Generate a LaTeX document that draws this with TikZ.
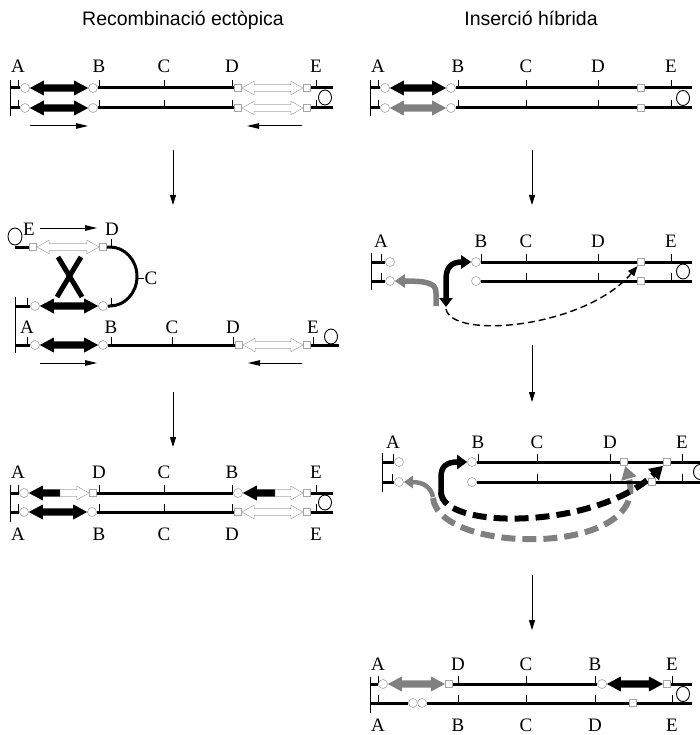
\documentclass[tikz,border=0pt]{standalone}
\usepackage{fontspec}
\setmainfont{Liberation Serif}
\newfontfamily\titlefont{Liberation Sans}
\usetikzlibrary{arrows.meta,calc,backgrounds}

% horizontal block arrows between two nodes
\newcommand{\dblarr}[3]{%
  \path[#1] let \p1=(#2.east), \p2=(#3.west) in
    (\x1,\y1) -- (\x1+\ahl,\y1+\ahw) -- (\x1+\ahl,\y1+\abw)
    -- (\x2-\ahl,\y1+\abw) -- (\x2-\ahl,\y1+\ahw) -- (\x2,\y1)
    -- (\x2-\ahl,\y1-\ahw) -- (\x2-\ahl,\y1-\abw)
    -- (\x1+\ahl,\y1-\abw) -- (\x1+\ahl,\y1-\ahw) -- cycle;}
\newcommand{\larr}[3]{% tip left, tail right
  \path[#1] let \p1=(#2), \p2=(#3) in
    (\x1,\y1) -- (\x1+\ahl,\y1+\ahw) -- (\x1+\ahl,\y1+\abw) -- (\x2,\y1+\abw)
    -- (\x2,\y1-\abw) -- (\x1+\ahl,\y1-\abw) -- (\x1+\ahl,\y1-\ahw) -- cycle;}
\newcommand{\rarr}[3]{% tail left, tip right
  \path[#1] let \p1=(#2), \p2=(#3) in
    (\x2,\y2) -- (\x2-\ahl,\y2+\ahw) -- (\x2-\ahl,\y2+\abw) -- (\x1,\y2+\abw)
    -- (\x1,\y2-\abw) -- (\x2-\ahl,\y2-\abw) -- (\x2-\ahl,\y2-\ahw) -- cycle;}

\begin{document}
\begin{tikzpicture}[x=1pt,y=-1pt,
  every node/.style={inner sep=0pt},
  lab/.style={font=\fontsize{19}{19}\selectfont, anchor=base},
  ttl/.style={font=\titlefont\fontsize{19.5}{21}\selectfont, anchor=base},
  strand/.style={line width=3pt},
  tickmark/.style={line width=0.8pt},
  endbar/.style={line width=1pt},
  telo/.style={line width=0.9pt},
  cir/.style={circle,draw=gray!70,fill=white,line width=0.6pt,minimum size=9pt},
  sqr/.style={rectangle,draw=gray!70,fill=white,line width=0.6pt,minimum size=7.5pt},
  solidarr/.style={fill=black,/utils/exec={\def\ahl{14pt}\def\ahw{7.5pt}\def\abw{3.7pt}}},
  greyarr/.style={fill=gray,/utils/exec={\def\ahl{14pt}\def\ahw{7.5pt}\def\abw{3.7pt}}},
  openarr/.style={draw=gray!70,fill=white,line width=0.5pt,/utils/exec={\def\ahl{12pt}\def\ahw{6.8pt}\def\abw{3.4pt}}},
  dirarr/.style={line width=1pt,-{Triangle[length=12pt,width=5.5pt]}},
  steparr/.style={line width=1pt,-{Triangle[length=10pt,width=6pt]}},
  xover/.style={line width=5pt},
  bent/.style={line width=5.5pt},
  thindash/.style={line width=1.4pt,dash pattern=on 7pt off 4pt,-{Triangle[length=10pt,width=8pt]}},
  fatdash/.style={line width=6pt,dash pattern=on 14pt off 7pt,-{Triangle[length=13pt,width=15pt]}}
]
\useasboundingbox (0,0) rectangle (700,735);

\node[ttl] (t1) at (183,26) {Recombinació ectòpica};
\node[ttl] (t2) at (531,26) {Inserció híbrida};

% ---------- recombinacio, pas 1
\foreach \x/\t in {18/A,99/B,164/C,232/D,316/E} {
  \node[lab] (r1\t) at (\x,73) {\t};
  \draw[tickmark] (\x,88) -- ++(0,-8) (\x,108) -- ++(0,-8);
}
\draw[endbar] (10,80) -- (10,116);
\foreach \r/\y in {u/88,l/108} {
  \coordinate (r1\r0) at (10,\y);
  \coordinate (r1\r9) at (333,\y);
  \node[cir] (r1\r1) at (25,\y) {};
  \node[cir] (r1\r2) at (93,\y) {};
  \node[sqr] (r1\r3) at (238,\y) {};
  \node[sqr] (r1\r4) at (307,\y) {};
  \draw[strand] (r1\r0) -- (r1\r1) (r1\r2) -- (r1\r3) (r1\r4) -- (r1\r9);
  \dblarr{solidarr}{r1\r1}{r1\r2}
  \dblarr{openarr}{r1\r3}{r1\r4}
}
\draw[telo] (325,97.5) ellipse [x radius=6.5,y radius=7.5];
\coordinate (r1a) at (30,126); \coordinate (r1b) at (88,126);
\coordinate (r1c) at (302,126); \coordinate (r1d) at (247,126);
\draw[dirarr] (r1a) -- (r1b);
\draw[dirarr] (r1c) -- (r1d);

% ---------- recombinacio, pas 2
\node[lab] (r2E) at (29,235) {E};
\node[lab] (r2D) at (112,235) {D};
\coordinate (r2a) at (40,228); \coordinate (r2b) at (97,228);
\draw[dirarr] (r2a) -- (r2b);
\draw[telo] (15,236.5) ellipse [x radius=7,y radius=8.5];
\coordinate (r2u0) at (15,247);
\node[sqr] (r2u1) at (33,247) {};
\node[sqr] (r2u2) at (103,247) {};
\node[cir] (r2m1) at (35,306) {};
\node[cir] (r2m2) at (103,306) {};
\coordinate (r2m0) at (15,306);
\draw[tickmark] (111,247) -- ++(0,-8) (27,306) -- ++(0,-8) (111,306) -- ++(0,-8);
\draw[strand] (r2u0) -- (r2u1);
\draw[strand] (r2m0) -- (r2m1);
\draw[strand] (r2u2) -- (110,247)
  arc[start angle=-90,end angle=90,x radius=27,y radius=29.5] -- (r2m2);
\draw[tickmark] (137,278) -- ++(7,0);
\node[lab] (r2C) at (151,284) {C};
\dblarr{openarr}{r2u1}{r2u2}
\dblarr{solidarr}{r2m1}{r2m2}
\draw[xover] (58,257) -- (82,297) (81,257) -- (57,297);
\draw[endbar] (15,297) -- (15,353);
\foreach \x/\t in {27/A,111/B,172/C,233/D,313/E} {
  \node[lab] (r2\t2) at (\x,333) {\t};
  \draw[tickmark] (\x,345) -- ++(0,-8);
}
\coordinate (r2l0) at (15,345);
\coordinate (r2l9) at (339,345);
\node[cir] (r2l1) at (35,345) {};
\node[cir] (r2l2) at (103,345) {};
\node[sqr] (r2l3) at (239,345) {};
\node[sqr] (r2l4) at (307,345) {};
\draw[strand] (r2l0) -- (r2l1) (r2l2) -- (r2l3) (r2l4) -- (r2l9);
\dblarr{solidarr}{r2l1}{r2l2}
\dblarr{openarr}{r2l3}{r2l4}
\draw[telo] (331,336.5) ellipse [x radius=6.5,y radius=7.5];
\coordinate (r2c) at (40,363); \coordinate (r2d) at (97,363);
\coordinate (r2e) at (302,363); \coordinate (r2f) at (248,363);
\draw[dirarr] (r2c) -- (r2d);
\draw[dirarr] (r2e) -- (r2f);

% ---------- recombinacio, pas 3
\foreach \x/\t/\s in {18/A/A,99/D/B,164/C/C,232/B/D,316/E/E} {
  \node[lab] (r3\t) at (\x,478) {\t};
  \node[lab] (r3\s2) at (\x,540) {\s};
  \draw[tickmark] (\x,493) -- ++(0,-8) (\x,512) -- ++(0,-8);
}
\draw[endbar] (10,485) -- (10,522);
\coordinate (r3u0) at (10,493); \coordinate (r3u9) at (333,493);
\coordinate (r3l0) at (10,512); \coordinate (r3l9) at (333,512);
\node[cir] (r3u1) at (24,493) {};
\node[sqr] (r3u2) at (93,493) {};
\node[cir] (r3u3) at (238,493) {};
\node[sqr] (r3u4) at (307,493) {};
\coordinate (r3j1) at (60,493); \coordinate (r3j2) at (275,493);
\draw[strand] (r3u0) -- (r3u1) (r3u2) -- (r3u3) (r3u4) -- (r3u9);
\larr{solidarr}{r3u1.east}{r3j1}
\rarr{openarr}{r3j1}{r3u2.west}
\larr{solidarr}{r3u3.east}{r3j2}
\rarr{openarr}{r3j2}{r3u4.west}
\node[cir] (r3l1) at (24,512) {};
\node[cir] (r3l2) at (92,512) {};
\node[sqr] (r3l3) at (238,512) {};
\node[sqr] (r3l4) at (307,512) {};
\draw[strand] (r3l0) -- (r3l1) (r3l2) -- (r3l3) (r3l4) -- (r3l9);
\dblarr{solidarr}{r3l1}{r3l2}
\dblarr{openarr}{r3l3}{r3l4}
\draw[telo] (325,502.5) ellipse [x radius=6.5,y radius=7.5];

% ---------- insercio, pas 1
\foreach \x/\t in {378/A,458/B,526/C,598/D,671/E} {
  \node[lab] (h1\t) at (\x,73) {\t};
  \draw[tickmark] (\x,88) -- ++(0,-8) (\x,108) -- ++(0,-8);
}
\draw[endbar] (370,80) -- (370,116);
\foreach \r/\y in {u/88,l/108} {
  \coordinate (h1\r0) at (370,\y);
  \coordinate (h1\r9) at (692,\y);
  \node[cir] (h1\r1) at (385,\y) {};
  \node[cir] (h1\r2) at (451,\y) {};
  \node[sqr] (h1\r3) at (641,\y) {};
  \draw[strand] (h1\r0) -- (h1\r1) (h1\r2) -- (h1\r3) -- (h1\r9);
}
\dblarr{solidarr}{h1u1}{h1u2}
\dblarr{greyarr}{h1l1}{h1l2}
\draw[telo] (683,98) ellipse [x radius=6.5,y radius=7.5];

% ---------- insercio, pas 2
\foreach \x/\t in {381/A,481/B,526/C,598/D,671/E} {
  \node[lab] (h2\t) at (\x,247) {\t};
  \draw[tickmark] (\x,262) -- ++(0,-8);
}
\foreach \x in {381,526,598,671} \draw[tickmark] (\x,281) -- ++(0,-8);
\draw[endbar] (371,253) -- (371,290);
\foreach \r/\y in {u/262,l/281} {
  \coordinate (h2\r0) at (371,\y);
  \coordinate (h2\r9) at (692,\y);
  \node[cir] (h2\r1) at (390,\y) {};
  \node[cir] (h2\r2) at (476,\y) {};
  \node[sqr] (h2\r3) at (641,\y) {};
  \draw[strand] (h2\r0) -- (h2\r1) (h2\r2) -- (h2\r3) -- (h2\r9);
}
\draw[telo] (683,271.5) ellipse [x radius=6.5,y radius=7.5];
\draw[bent,gray,-{Triangle[length=10pt,width=13pt]}] (436,306) -- (436,293)
  .. controls (436,284) and (430,281) .. (h2l1);
\draw[bent,{Triangle[length=9pt,width=13pt]}-{Triangle[length=10pt,width=13pt]}]
  (446,307) -- (446,279) .. controls (446,267) and (452,262) .. (h2u2);
\draw[thindash] (446,309) .. controls (452,340) and (585,328) .. (h2u3);

% ---------- insercio, pas 3
\foreach \x/\t in {393/A,478/B,537/C,610/D,682/E} {
  \node[lab] (h3\t) at (\x,448) {\t};
  \draw[tickmark] (\x,462) -- ++(0,-8);
}
\foreach \x in {392,537,610,682} \draw[tickmark] (\x,482) -- ++(0,-8);
\draw[endbar] (382,453) -- (382,492);
\coordinate (h3u0) at (382,462); \coordinate (h3u9) at (700,462);
\coordinate (h3l0) at (382,482); \coordinate (h3l9) at (700,482);
\node[cir] (h3u1) at (399,462) {};
\node[cir] (h3l1) at (399,482) {};
\node[cir] (h3u2) at (472,462) {};
\node[cir] (h3l2) at (472,482) {};
\node[sqr] (h3u3) at (624,462) {};
\node[sqr] (h3u4) at (667,462) {};
\node[sqr] (h3l3) at (652,482) {};
\draw[strand] (h3u0) -- (h3u1) (h3u2) -- (h3u3) -- (h3u4) -- (h3u9);
\draw[strand] (h3l0) -- (h3l1) (h3l2) -- (h3l3) -- (h3l9);
\draw[telo] (700,472) ellipse [x radius=6.5,y radius=7.5];
\begin{pgfonlayer}{background}
\draw[fatdash,gray] (433,498) .. controls (440,556) and (652,556) .. (h3u3);
\draw[fatdash] (441,492) .. controls (441,530) and (595,530) .. (h3u4);
\end{pgfonlayer}
\draw[bent,gray,line width=4.5pt,-{Triangle[length=9pt,width=12pt]}] (433,497)
  .. controls (431,487) and (423,482) .. (h3l1);
\draw[bent,-{Triangle[length=10pt,width=14pt]}] (441,494) -- (441,477)
  .. controls (441,466) and (447,462) .. (h3u2);

% ---------- insercio, pas 4
\foreach \x/\t/\s in {378/A/A,458/D/B,526/C/C,595/B/D,672/E/E} {
  \node[lab] (h4\t) at (\x,670) {\t};
  \node[lab] (h4\s2) at (\x,731.5) {\s};
  \draw[tickmark] (\x,684) -- ++(0,-8) (\x,703) -- ++(0,-8);
}
\draw[endbar] (370,677) -- (370,713);
\coordinate (h4u0) at (370,684); \coordinate (h4u9) at (692,684);
\coordinate (h4l0) at (370,703); \coordinate (h4l9) at (692,703);
\node[cir] (h4u1) at (383,684) {};
\node[sqr] (h4u2) at (449,684) {};
\node[cir] (h4u3) at (602,684) {};
\node[sqr] (h4u4) at (667,684) {};
\draw[strand] (h4u0) -- (h4u1) (h4u2) -- (h4u3) (h4u4) -- (h4u9);
\dblarr{greyarr}{h4u1}{h4u2}
\dblarr{solidarr}{h4u3}{h4u4}
\node[cir] (h4l1) at (413,703) {};
\node[cir] (h4l2) at (422,703) {};
\node[sqr] (h4l3) at (633,703) {};
\draw[strand] (h4l0) -- (h4l1) (h4l2) -- (h4l3) -- (h4l9);
\draw[telo] (683,694) ellipse [x radius=6.5,y radius=7.5];

% ---------- fletxes entre passos
\coordinate (s1a) at (173,150); \coordinate (s1b) at (173,205);
\coordinate (s2a) at (173,392); \coordinate (s2b) at (173,447);
\coordinate (s3a) at (532,150); \coordinate (s3b) at (532,205);
\coordinate (s4a) at (532,345); \coordinate (s4b) at (532,402);
\coordinate (s5a) at (532,575); \coordinate (s5b) at (532,630);
\foreach \s in {1,...,5} \draw[steparr] (s\s a) -- (s\s b);
\end{tikzpicture}
\end{document}
